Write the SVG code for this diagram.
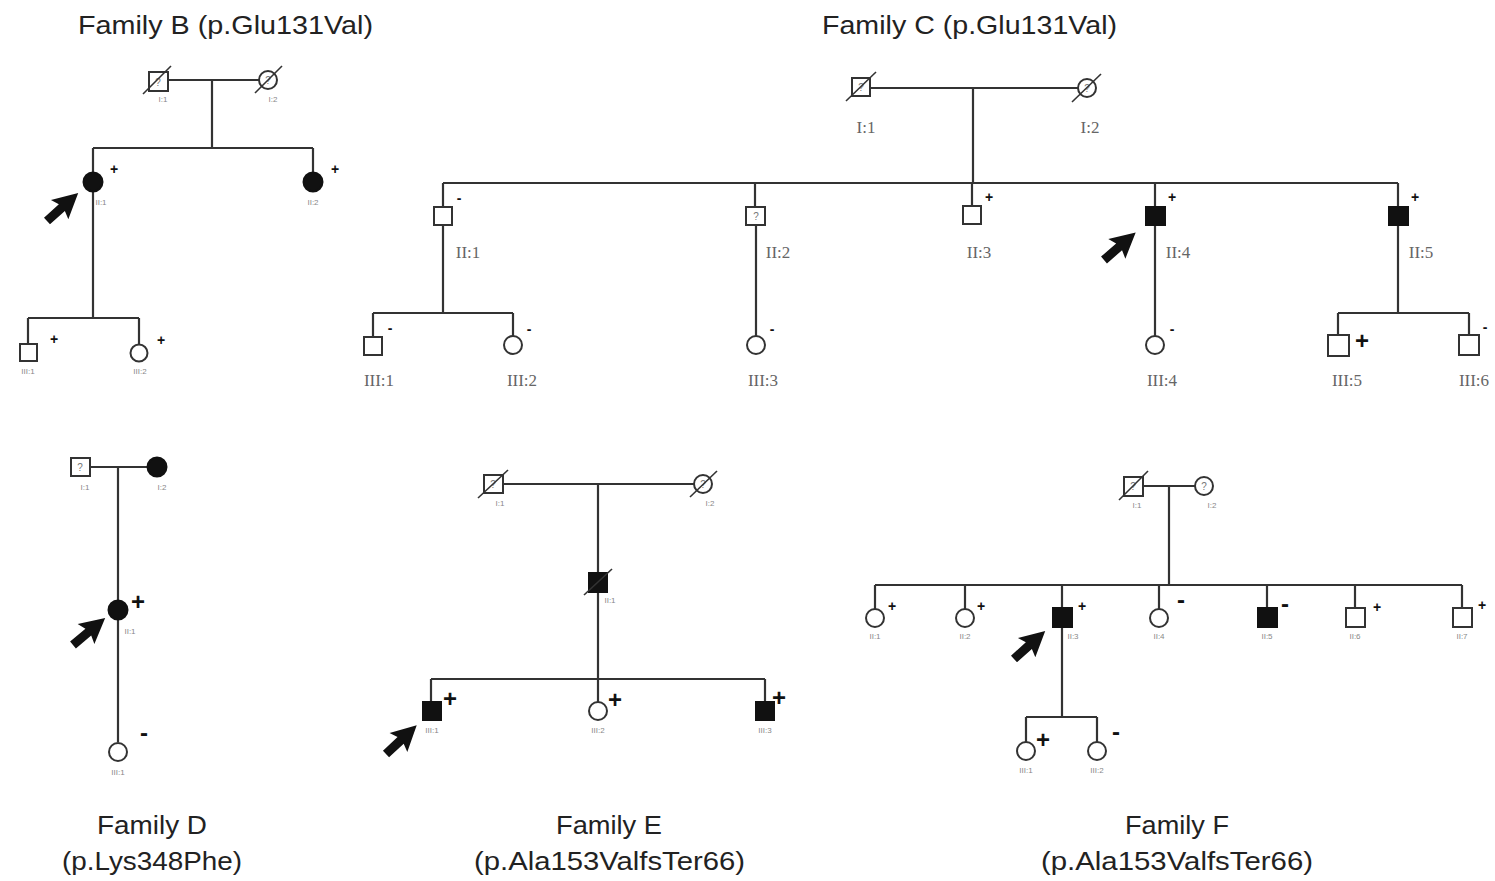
<svg xmlns="http://www.w3.org/2000/svg" width="1495" height="881" viewBox="0 0 1495 881">
<style>
.t{font-family:"Liberation Sans",Arial,sans-serif;font-size:26px;fill:#222}
.ln{stroke:#333;stroke-width:2.2;fill:none}
.m{fill:#fff;stroke:#333;stroke-width:2}
.a{fill:#111;stroke:#111;stroke-width:2}
.d{stroke:#333;stroke-width:1.6}
.lb{font-family:"Liberation Sans",Arial,sans-serif;font-size:8px;fill:#888;text-anchor:middle}
.lc{font-family:"Liberation Serif","Times New Roman",serif;font-size:17px;fill:#666;text-anchor:middle}
.q{font-family:"Liberation Sans",Arial,sans-serif;font-size:10px;fill:#777;text-anchor:middle}
.s{font-family:"Liberation Sans",Arial,sans-serif;font-size:14px;fill:#111;font-weight:bold;text-anchor:middle}
.S{font-family:"Liberation Sans",Arial,sans-serif;font-size:24px;fill:#111;font-weight:bold;text-anchor:middle}
</style>
<defs>
<path id="arr" d="M0,-4.5 L20,-4.5 L17,-13 L42,0 L17,13 L20,4.5 L0,4.5 Z" fill="#111"/>
</defs>
<rect width="1495" height="881" fill="#fff"/>

<!-- titles -->
<g id="titles">
<text class="t" x="78" y="34" textLength="295" lengthAdjust="spacingAndGlyphs">Family B (p.Glu131Val)</text>
<text class="t" x="822" y="34" textLength="295" lengthAdjust="spacingAndGlyphs">Family C (p.Glu131Val)</text>
<text class="t" x="97" y="834" textLength="110" lengthAdjust="spacingAndGlyphs">Family D</text>
<text class="t" x="62" y="870" textLength="180" lengthAdjust="spacingAndGlyphs">(p.Lys348Phe)</text>
<text class="t" x="556" y="834" textLength="106" lengthAdjust="spacingAndGlyphs">Family E</text>
<text class="t" x="474" y="870" textLength="271" lengthAdjust="spacingAndGlyphs">(p.Ala153ValfsTer66)</text>
<text class="t" x="1125" y="834" textLength="104" lengthAdjust="spacingAndGlyphs">Family F</text>
<text class="t" x="1041" y="870" textLength="272" lengthAdjust="spacingAndGlyphs">(p.Ala153ValfsTer66)</text>
</g>

<!-- connectors -->
<g id="connectors">
<!-- B -->
<path class="ln" d="M168,80 H259 M212,80 V148 M93,148 H313 M93,148 V172 M313,148 V172 M93,192 V318 M28,318 H139 M28,318 V343 M139,318 V344"/>
<!-- C -->
<path class="ln" d="M870,88 H1078 M973,88 V183 M443,183 H1398 M443,183 V207 M755,183 V207 M972,183 V206 M1155,183 V207 M1398,183 V207 M443,225 V313 M373,313 H513 M373,313 V337 M513,313 V336 M756,225 V336 M1155,225 V336 M1398,225 V313 M1338,313 H1469 M1338,313 V335 M1469,313 V335"/>
<!-- D -->
<path class="ln" d="M90,467 H147 M118,467 V600 M118,620 V742"/>
<!-- E -->
<path class="ln" d="M503,484 H694 M598,484 V573 M598,592 V679 M431,679 H765 M431,679 V702 M598,679 V702 M765,679 V702"/>
<!-- F -->
<path class="ln" d="M1143,486 H1195 M1169,486 V585 M875,585 H1462 M875,585 V609 M965,585 V609 M1062,585 V608 M1159,585 V609 M1267,585 V608 M1355,585 V608 M1462,585 V608 M1062,627 V717 M1026,717 H1097 M1026,717 V742 M1097,717 V742"/>
</g>

<!-- Family B -->
<g id="B-I1"><rect class="m" x="149" y="72" width="19" height="19"/><text class="q" x="158" y="86">?</text><line class="d" x1="143" y1="94" x2="171" y2="66"/><text class="lb" x="163" y="102">I:1</text></g>
<g id="B-I2"><circle class="m" cx="268" cy="80" r="9"/><text class="q" x="268" y="84">?</text><line class="d" x1="255" y1="93" x2="282" y2="66"/><text class="lb" x="273" y="102">I:2</text></g>
<g id="B-II1"><circle class="a" cx="93" cy="182" r="9.5"/><text class="s" x="114" y="174">+</text><text class="lb" x="101" y="205">II:1</text><use href="#arr" transform="translate(47,221) rotate(-42)"/></g>
<g id="B-II2"><circle class="a" cx="313" cy="182" r="9.5"/><text class="s" x="335" y="174">+</text><text class="lb" x="313" y="205">II:2</text></g>
<g id="B-III1"><rect class="m" x="20" y="344" width="17" height="17"/><text class="s" x="54" y="344">+</text><text class="lb" x="28" y="374">III:1</text></g>
<g id="B-III2"><circle class="m" cx="139" cy="353" r="8.5"/><text class="s" x="161" y="345">+</text><text class="lb" x="140" y="374">III:2</text></g>

<!-- Family C -->
<g id="C-I1"><rect class="m" x="852" y="78" width="18" height="18"/><text class="q" x="861" y="91">?</text><line class="d" x1="846" y1="101" x2="876" y2="72"/><text class="lc" x="866" y="133">I:1</text></g>
<g id="C-I2"><circle class="m" cx="1087" cy="88" r="9"/><text class="q" x="1087" y="92">?</text><line class="d" x1="1072" y1="102" x2="1101" y2="74"/><text class="lc" x="1090" y="133">I:2</text></g>
<g id="C-II1"><rect class="m" x="434" y="207" width="18" height="18"/><text class="s" x="459" y="203">-</text><text class="lc" x="468" y="258">II:1</text></g>
<g id="C-II2"><rect class="m" x="746" y="207" width="19" height="18"/><text class="q" x="756" y="220">?</text><text class="lc" x="778" y="258">II:2</text></g>
<g id="C-II3"><rect class="m" x="963" y="206" width="18" height="18"/><text class="s" x="989" y="202">+</text><text class="lc" x="979" y="258">II:3</text></g>
<g id="C-II4"><rect class="a" x="1146" y="207" width="19" height="18"/><text class="s" x="1172" y="202">+</text><text class="lc" x="1178" y="258">II:4</text><use href="#arr" transform="translate(1104,260) rotate(-41)"/></g>
<g id="C-II5"><rect class="a" x="1389" y="207" width="19" height="18"/><text class="s" x="1415" y="202">+</text><text class="lc" x="1421" y="258">II:5</text></g>
<g id="C-III1"><rect class="m" x="364" y="337" width="18" height="18"/><text class="s" x="390" y="333">-</text><text class="lc" x="379" y="386">III:1</text></g>
<g id="C-III2"><circle class="m" cx="513" cy="345" r="9"/><text class="s" x="529" y="334">-</text><text class="lc" x="522" y="386">III:2</text></g>
<g id="C-III3"><circle class="m" cx="756" cy="345" r="9"/><text class="s" x="772" y="334">-</text><text class="lc" x="763" y="386">III:3</text></g>
<g id="C-III4"><circle class="m" cx="1155" cy="345" r="9"/><text class="s" x="1172" y="334">-</text><text class="lc" x="1162" y="386">III:4</text></g>
<g id="C-III5"><rect class="m" x="1328" y="335" width="21" height="21"/><text class="S" x="1362" y="349">+</text><text class="lc" x="1347" y="386">III:5</text></g>
<g id="C-III6"><rect class="m" x="1459" y="335" width="20" height="20"/><text class="s" x="1485" y="332">-</text><text class="lc" x="1474" y="386">III:6</text></g>

<!-- Family D -->
<g id="D-I1"><rect class="m" x="71" y="458" width="19" height="18"/><text class="q" x="80" y="471">?</text><text class="lb" x="85" y="490">I:1</text></g>
<g id="D-I2"><circle class="a" cx="157" cy="467" r="9.5"/><text class="lb" x="162" y="490">I:2</text></g>
<g id="D-II1"><circle class="a" cx="118" cy="610" r="9.5"/><text class="S" x="138" y="610">+</text><text class="lb" x="130" y="634">II:1</text><use href="#arr" transform="translate(73,645) rotate(-40)"/></g>
<g id="D-III1"><circle class="m" cx="118" cy="752" r="9"/><text class="S" x="144" y="741">-</text><text class="lb" x="118" y="775">III:1</text></g>

<!-- Family E -->
<g id="E-I1"><rect class="m" x="484" y="475" width="19" height="18"/><text class="q" x="493" y="488">?</text><line class="d" x1="478" y1="498" x2="508" y2="470"/><text class="lb" x="500" y="506">I:1</text></g>
<g id="E-I2"><circle class="m" cx="703" cy="484" r="9"/><text class="q" x="703" y="488">?</text><line class="d" x1="690" y1="497" x2="717" y2="471"/><text class="lb" x="710" y="506">I:2</text></g>
<g id="E-II1"><rect class="a" x="589" y="573" width="18" height="19"/><line class="d" x1="584" y1="595" x2="612" y2="569"/><text class="lb" x="610" y="603">II:1</text></g>
<g id="E-III1"><rect class="a" x="423" y="702" width="18" height="18"/><text class="S" x="450" y="707">+</text><text class="lb" x="432" y="733">III:1</text><use href="#arr" transform="translate(386,754) rotate(-43)"/></g>
<g id="E-III2"><circle class="m" cx="598" cy="711" r="9"/><text class="S" x="615" y="708">+</text><text class="lb" x="598" y="733">III:2</text></g>
<g id="E-III3"><rect class="a" x="756" y="702" width="18" height="18"/><text class="S" x="779" y="706">+</text><text class="lb" x="765" y="733">III:3</text></g>

<!-- Family F -->
<g id="F-I1"><rect class="m" x="1124" y="477" width="19" height="19"/><text class="q" x="1133" y="490">?</text><line class="d" x1="1119" y1="500" x2="1148" y2="471"/><text class="lb" x="1137" y="508">I:1</text></g>
<g id="F-I2"><circle class="m" cx="1204" cy="486" r="9"/><text class="q" x="1204" y="490">?</text><text class="lb" x="1212" y="508">I:2</text></g>
<g id="F-II1"><circle class="m" cx="875" cy="618" r="9"/><text class="s" x="892" y="611">+</text><text class="lb" x="875" y="639">II:1</text></g>
<g id="F-II2"><circle class="m" cx="965" cy="618" r="9"/><text class="s" x="981" y="611">+</text><text class="lb" x="965" y="639">II:2</text></g>
<g id="F-II3"><rect class="a" x="1053" y="608" width="19" height="19"/><text class="s" x="1082" y="611">+</text><text class="lb" x="1073" y="639">II:3</text><use href="#arr" transform="translate(1014,659) rotate(-42)"/></g>
<g id="F-II4"><circle class="m" cx="1159" cy="618" r="9"/><text class="S" x="1181" y="608">-</text><text class="lb" x="1159" y="639">II:4</text></g>
<g id="F-II5"><rect class="a" x="1258" y="608" width="19" height="19"/><text class="S" x="1285" y="612">-</text><text class="lb" x="1267" y="639">II:5</text></g>
<g id="F-II6"><rect class="m" x="1346" y="608" width="19" height="19"/><text class="s" x="1377" y="612">+</text><text class="lb" x="1355" y="639">II:6</text></g>
<g id="F-II7"><rect class="m" x="1453" y="608" width="19" height="19"/><text class="s" x="1482" y="610">+</text><text class="lb" x="1462" y="639">II:7</text></g>
<g id="F-III1"><circle class="m" cx="1026" cy="751" r="9"/><text class="S" x="1043" y="748">+</text><text class="lb" x="1026" y="773">III:1</text></g>
<g id="F-III2"><circle class="m" cx="1097" cy="751" r="9"/><text class="S" x="1116" y="740">-</text><text class="lb" x="1097" y="773">III:2</text></g>
</svg>
